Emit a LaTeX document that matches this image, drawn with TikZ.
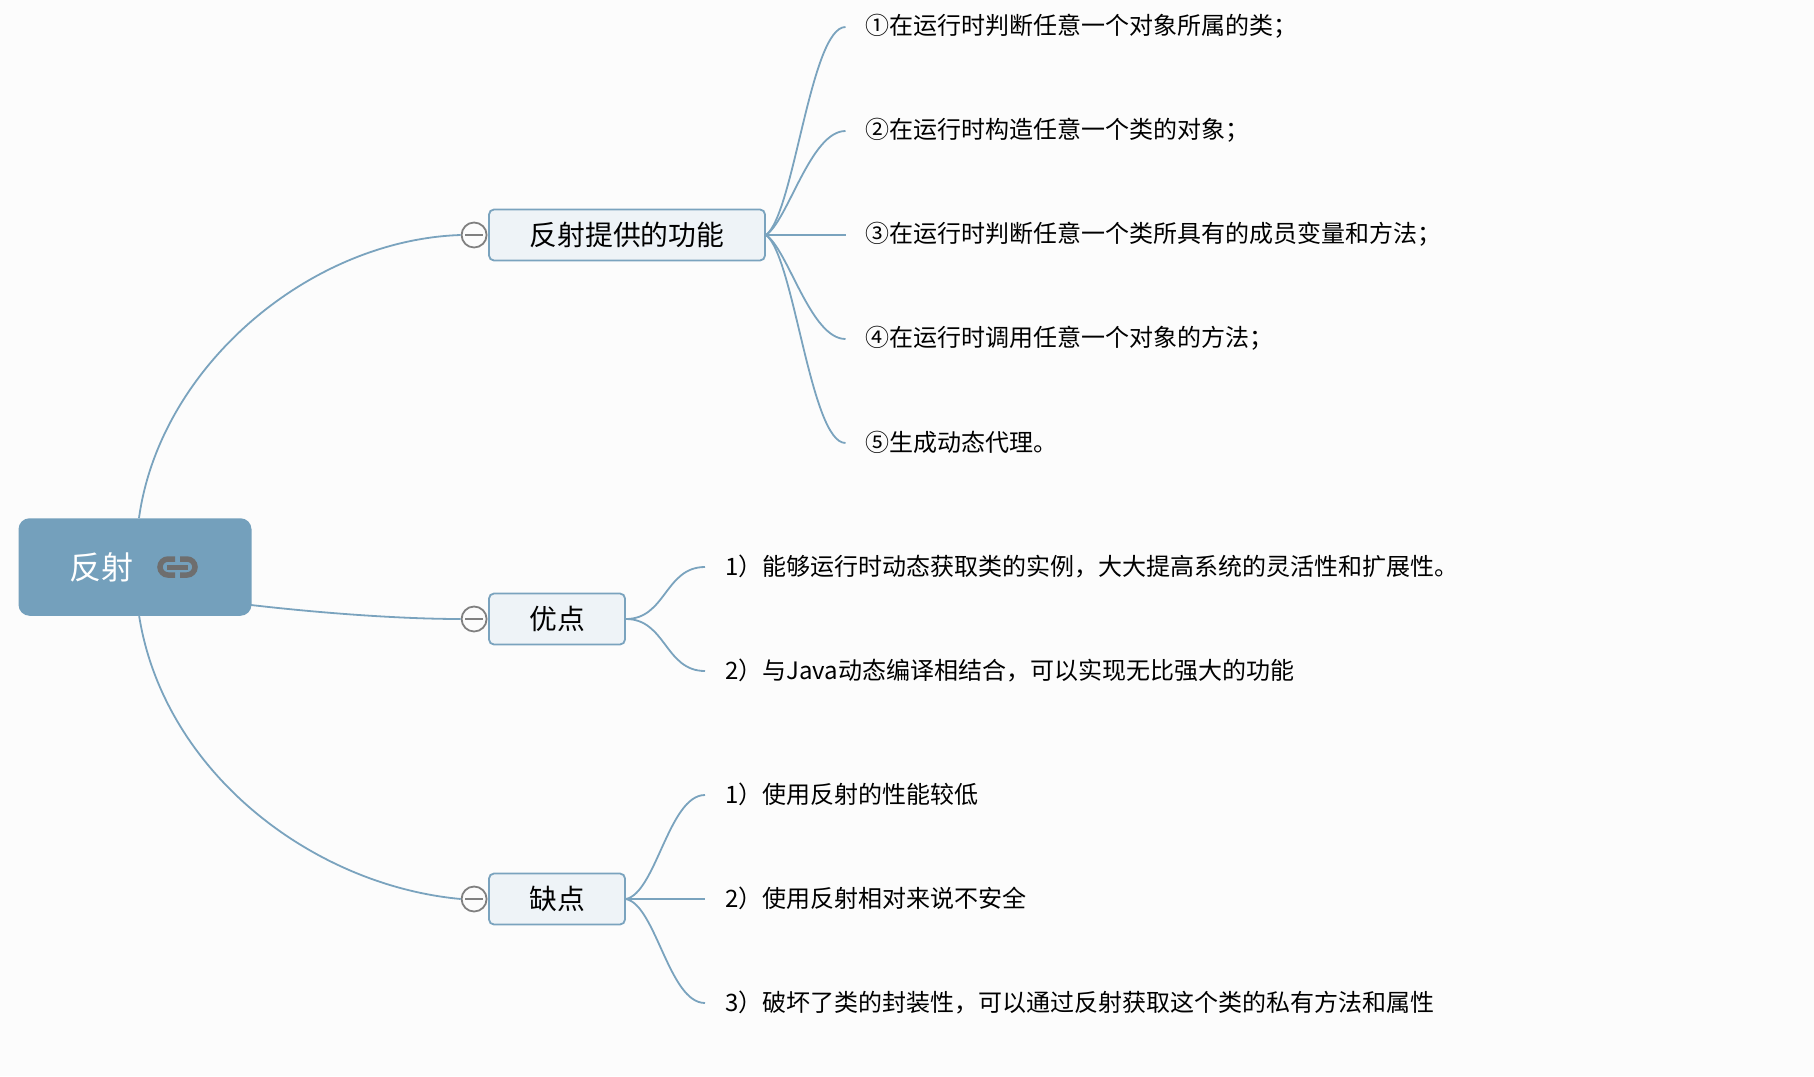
\documentclass[tikz,border=0pt]{standalone}
\usepackage{fontspec}
\setmainfont{Noto Sans CJK SC}
\usetikzlibrary{positioning}
\definecolor{linkblue}{HTML}{7AA3BE}
\definecolor{rootblue}{HTML}{74A0BC}
\definecolor{boxfill}{HTML}{EEF3F7}
\definecolor{paper}{HTML}{FCFCFC}
\definecolor{foldgray}{HTML}{808080}
\definecolor{icongray}{HTML}{6E6E6E}

\begin{document}
\begin{tikzpicture}[x=1pt,y=-1pt,
    link/.style={draw=linkblue,line width=1.8pt},
    topic/.style={draw=linkblue,fill=boxfill,line width=1.8pt,rounded corners=5pt,minimum height=51pt,inner sep=0pt,font=\fontsize{27.8}{32}\selectfont},
    item/.style={anchor=west,inner sep=0pt,yshift=0.6pt,font=\fontsize{24}{28}\selectfont},
    fold/.style={circle,draw=foldgray,fill=paper,line width=1.8pt,minimum size=25pt,inner sep=0pt}]
    \useasboundingbox[fill=paper] (0,0) rectangle (1814,1076);

    % root
    \node[fill=rootblue,rounded corners=11pt,minimum width=233pt,minimum height=97.5pt,inner sep=0pt] (root) at (135,567) {};
    \node[text=white,inner sep=0pt,font=\fontsize{32}{36}\selectfont] (rootlabel) at (101,567) {反射};
    \draw[icongray,line width=5.5pt] (175,559) -- (168,559) arc[start angle=90,end angle=270,radius=8pt] -- (175,575);
    \draw[icongray,line width=5.5pt] (180,559) -- (187,559) arc[start angle=90,end angle=-90,radius=8pt] -- (180,575);
    \draw[icongray,line width=5pt] (167,567) -- (188,567);

    % topics
    \node[topic,minimum width=276pt] (funcs) at (627,235) {反射提供的功能};
    \node[topic,minimum width=136pt] (pros) at (557,619) {优点};
    \node[topic,minimum width=136pt] (cons) at (557,899) {缺点};

    \foreach \n in {funcs,pros,cons} {
        \node[fold] (\n fold) at ([xshift=-14pt]\n.west) {};
        \draw[foldgray,line width=1.8pt] ([xshift=-9pt]\n fold.center) -- ([xshift=9pt]\n fold.center);
    }

    % root to topics
    \draw[link] (139,518) .. controls (160,366) and (310,240) .. (funcsfold.west);
    \draw[link] (251,605) .. controls (320,613) and (400,619) .. (prosfold.west);
    \draw[link] (139,615) .. controls (163,770) and (310,885) .. (consfold.west);

    % functions
    \foreach \i/\y/\bx/\by/\t in {
        1/27/28/-20/①在运行时判断任意一个对象所属的类；,
        2/131/22/-14/②在运行时构造任意一个类的对象；,
        3/235/30/0/③在运行时判断任意一个类所具有的成员变量和方法；,
        4/339/22/14/④在运行时调用任意一个对象的方法；,
        5/443/28/20/⑤生成动态代理。} {
        \coordinate (fend\i) at (845.5,\y);
        \node[item] (f\i) at (865,\y) {\t};
        \draw[link] (funcs.east) .. controls +(\bx,\by) and +(-35,0) .. (fend\i);
    }

    % pros
    \foreach \i/\y/\t in {
        1/567/1）能够运行时动态获取类的实例，大大提高系统的灵活性和扩展性。,
        2/671/2）与Java动态编译相结合，可以实现无比强大的功能} {
        \coordinate (pend\i) at (705,\y);
        \node[item] (p\i) at (725,\y) {\t};
        \draw[link] (pros.east) .. controls +(40,0) and +(-40,0) .. (pend\i);
    }

    % cons
    \foreach \i/\y/\bx/\by/\t in {
        1/795/30/-6/1）使用反射的性能较低,
        2/899/30/0/2）使用反射相对来说不安全,
        3/1003/30/6/3）破坏了类的封装性，可以通过反射获取这个类的私有方法和属性} {
        \coordinate (cend\i) at (705,\y);
        \node[item] (c\i) at (725,\y) {\t};
        \draw[link] (cons.east) .. controls +(\bx,\by) and +(-36,0) .. (cend\i);
    }
\end{tikzpicture}
\end{document}
